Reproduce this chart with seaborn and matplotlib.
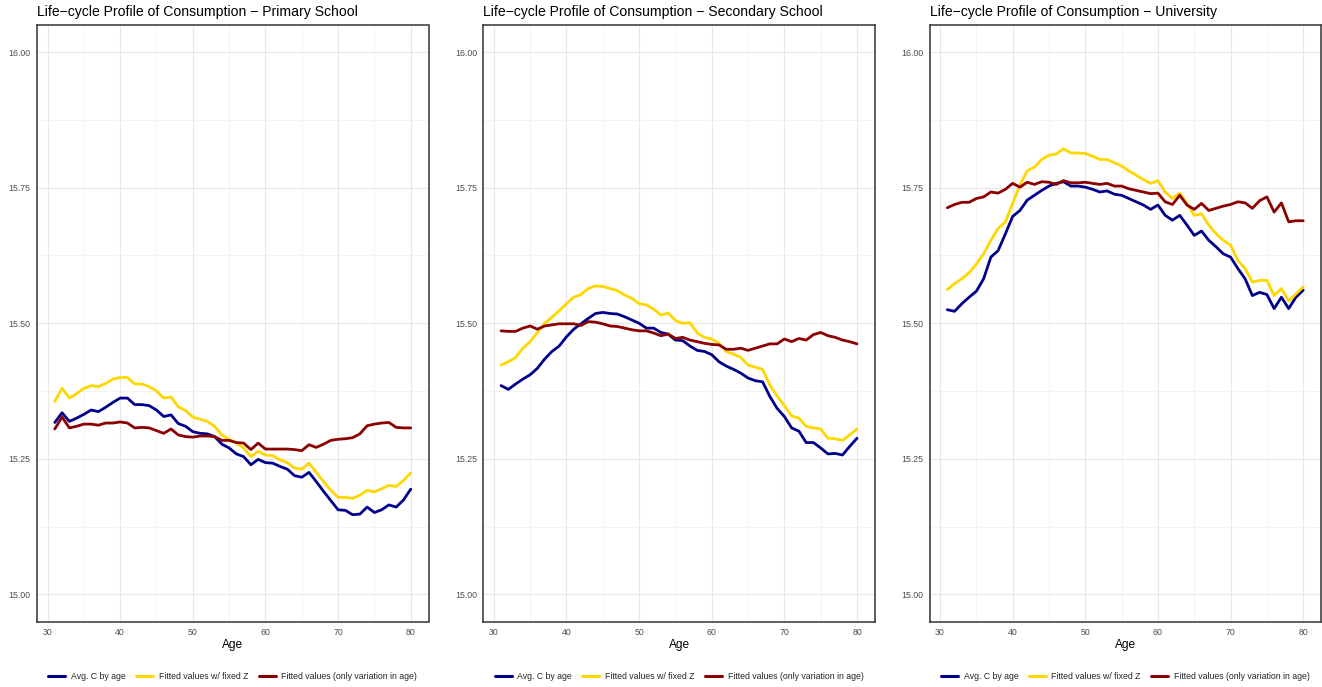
import numpy as np
import pandas as pd
import matplotlib
matplotlib.use("Agg")
import matplotlib.pyplot as plt
from matplotlib.ticker import MultipleLocator, FormatStrFormatter
import seaborn as sns

# Ages on the x axis (same for every panel)
ages = list(range(31, 81))

series_names = ["Avg. C by age",
                "Fitted values w/ fixed Z",
                "Fitted values (only variation in age)"]
series_colors = ["#00008B", "#FFD700", "#8B0000"]

# Primary school
primary_avg = [15.317, 15.335, 15.319, 15.325, 15.332, 15.340, 15.337, 15.345, 15.354, 15.362,
               15.362, 15.350, 15.350, 15.348, 15.340, 15.328, 15.331, 15.315, 15.310, 15.300,
               15.297, 15.296, 15.291, 15.277, 15.270, 15.259, 15.254, 15.239, 15.249, 15.243,
               15.242, 15.236, 15.231, 15.219, 15.216, 15.225, 15.208, 15.190, 15.173, 15.156,
               15.155, 15.147, 15.148, 15.161, 15.151, 15.156, 15.165, 15.161, 15.174, 15.194]
primary_fixz = [15.356, 15.380, 15.362, 15.370, 15.380, 15.385, 15.383, 15.389, 15.397, 15.400,
                15.400, 15.388, 15.388, 15.383, 15.375, 15.362, 15.364, 15.346, 15.339, 15.327,
                15.323, 15.319, 15.310, 15.294, 15.286, 15.279, 15.270, 15.254, 15.264, 15.257,
                15.256, 15.248, 15.243, 15.233, 15.231, 15.242, 15.225, 15.208, 15.192, 15.179,
                15.179, 15.177, 15.183, 15.192, 15.189, 15.195, 15.201, 15.199, 15.210, 15.224]
primary_age = [15.305, 15.327, 15.307, 15.310, 15.314, 15.314, 15.312, 15.316, 15.316, 15.318,
               15.316, 15.307, 15.308, 15.307, 15.302, 15.297, 15.305, 15.294, 15.291, 15.290,
               15.292, 15.292, 15.291, 15.284, 15.284, 15.280, 15.279, 15.267, 15.279, 15.268,
               15.268, 15.268, 15.268, 15.267, 15.265, 15.276, 15.271, 15.277, 15.284, 15.286,
               15.287, 15.289, 15.296, 15.311, 15.314, 15.316, 15.317, 15.308, 15.307, 15.307]

# Secondary school
secondary_avg = [15.385, 15.378, 15.388, 15.397, 15.405, 15.417, 15.434, 15.448, 15.458, 15.475,
                 15.489, 15.499, 15.509, 15.518, 15.520, 15.518, 15.517, 15.512, 15.506, 15.500,
                 15.491, 15.491, 15.483, 15.480, 15.469, 15.468, 15.458, 15.450, 15.448, 15.442,
                 15.429, 15.421, 15.415, 15.408, 15.399, 15.394, 15.392, 15.365, 15.343, 15.328,
                 15.307, 15.301, 15.280, 15.280, 15.270, 15.259, 15.260, 15.257, 15.273, 15.288]
secondary_fixz = [15.423, 15.429, 15.437, 15.454, 15.466, 15.483, 15.500, 15.511, 15.523, 15.536,
                  15.548, 15.553, 15.564, 15.569, 15.568, 15.564, 15.560, 15.552, 15.546, 15.536,
                  15.534, 15.526, 15.515, 15.519, 15.505, 15.500, 15.501, 15.482, 15.474, 15.471,
                  15.463, 15.448, 15.443, 15.437, 15.423, 15.419, 15.415, 15.386, 15.366, 15.348,
                  15.329, 15.325, 15.310, 15.307, 15.305, 15.288, 15.287, 15.284, 15.294, 15.305]
secondary_age = [15.486, 15.485, 15.485, 15.491, 15.495, 15.489, 15.495, 15.497, 15.499, 15.499,
                 15.499, 15.496, 15.503, 15.502, 15.499, 15.495, 15.494, 15.491, 15.488, 15.486,
                 15.486, 15.482, 15.477, 15.480, 15.472, 15.474, 15.469, 15.466, 15.463, 15.461,
                 15.460, 15.452, 15.452, 15.454, 15.450, 15.454, 15.458, 15.462, 15.462, 15.471,
                 15.466, 15.472, 15.469, 15.479, 15.483, 15.477, 15.474, 15.469, 15.466, 15.462]

# University
university_avg = [15.525, 15.522, 15.536, 15.548, 15.559, 15.582, 15.622, 15.634, 15.665, 15.697,
                  15.708, 15.727, 15.736, 15.745, 15.753, 15.758, 15.761, 15.753, 15.753, 15.751,
                  15.747, 15.742, 15.744, 15.738, 15.736, 15.730, 15.724, 15.718, 15.710, 15.718,
                  15.699, 15.690, 15.699, 15.681, 15.662, 15.670, 15.653, 15.641, 15.628, 15.622,
                  15.601, 15.582, 15.551, 15.557, 15.553, 15.527, 15.548, 15.527, 15.548, 15.561]
university_fixz = [15.562, 15.573, 15.582, 15.593, 15.609, 15.628, 15.653, 15.675, 15.687, 15.721,
                   15.755, 15.781, 15.788, 15.802, 15.810, 15.812, 15.822, 15.814, 15.814, 15.813,
                   15.808, 15.802, 15.802, 15.796, 15.790, 15.781, 15.773, 15.765, 15.758, 15.763,
                   15.742, 15.730, 15.740, 15.721, 15.699, 15.702, 15.681, 15.665, 15.653, 15.644,
                   15.616, 15.601, 15.576, 15.579, 15.579, 15.551, 15.564, 15.541, 15.554, 15.567]
university_age = [15.713, 15.719, 15.723, 15.723, 15.730, 15.733, 15.742, 15.740, 15.747, 15.758,
                  15.751, 15.760, 15.756, 15.761, 15.760, 15.756, 15.763, 15.759, 15.759, 15.760,
                  15.758, 15.756, 15.758, 15.753, 15.753, 15.748, 15.745, 15.742, 15.739, 15.740,
                  15.724, 15.719, 15.736, 15.718, 15.710, 15.721, 15.708, 15.712, 15.716, 15.719,
                  15.724, 15.722, 15.712, 15.726, 15.733, 15.705, 15.722, 15.687, 15.689, 15.689]

panels = [
    ("Life\u2212cycle Profile of Consumption \u2212 Primary School",
     [primary_avg, primary_fixz, primary_age]),
    ("Life\u2212cycle Profile of Consumption \u2212 Secondary School",
     [secondary_avg, secondary_fixz, secondary_age]),
    ("Life\u2212cycle Profile of Consumption \u2212 University",
     [university_avg, university_fixz, university_age]),
]

sns.set_theme(style="whitegrid")
plt.rcParams['font.family'] = ['Liberation Sans', 'DejaVu Sans']

W, H = 1322, 687
fig = plt.figure(figsize=(W / 100, H / 100), dpi=100)
fig.patch.set_facecolor("white")

lefts = [37, 483.3, 929.5]
for left, (title, values) in zip(lefts, panels):
    ax = fig.add_axes([left / W, 65.5 / H, 391.5 / W, 596.5 / H])

    # long format table for seaborn
    df = pd.DataFrame({
        "Age": ages * 3,
        "value": values[0] + values[1] + values[2],
        "series": [s for s in series_names for _ in ages],
    })
    sns.lineplot(data=df, x="Age", y="value", hue="series", hue_order=series_names,
                 palette=series_colors, linewidth=2.0, ax=ax)

    ax.set_xlim(28.55, 82.45)
    ax.set_ylim(14.95, 16.05)
    ax.xaxis.set_major_locator(MultipleLocator(10))
    ax.xaxis.set_minor_locator(MultipleLocator(5))
    ax.yaxis.set_major_locator(MultipleLocator(0.25))
    ax.yaxis.set_minor_locator(MultipleLocator(0.125))
    ax.yaxis.set_major_formatter(FormatStrFormatter("%.2f"))

    ax.grid(which="major", color="#E8E8E8", linewidth=0.9)
    ax.grid(which="minor", color="#F2F2F2", linewidth=0.6)
    ax.set_axisbelow(True)
    for s in ax.spines.values():
        s.set_visible(True)
        s.set_color("#333333")
        s.set_linewidth(1.1)

    ax.tick_params(which="major", length=2.5, width=0.8, color="#333333",
                   labelsize=6.3, labelcolor="#4D4D4D", pad=2)
    ax.tick_params(which="minor", length=0)

    ax.set_title(title, loc="left", fontsize=10.1, pad=6.5, color="black")
    ax.set_xlabel("Age", fontsize=8.6, labelpad=1.5, color="black")
    ax.set_ylabel("")

    sns.move_legend(ax, "center", bbox_to_anchor=(0.5, -0.093), ncol=3, title=None,
                    frameon=False, fontsize=6.3, handlelength=1.95, handletextpad=0.66,
                    columnspacing=1.16)
    for line in ax.get_legend().get_lines():
        line.set_linewidth(2.2)

fig.savefig("out.png", dpi=100, facecolor="white")
